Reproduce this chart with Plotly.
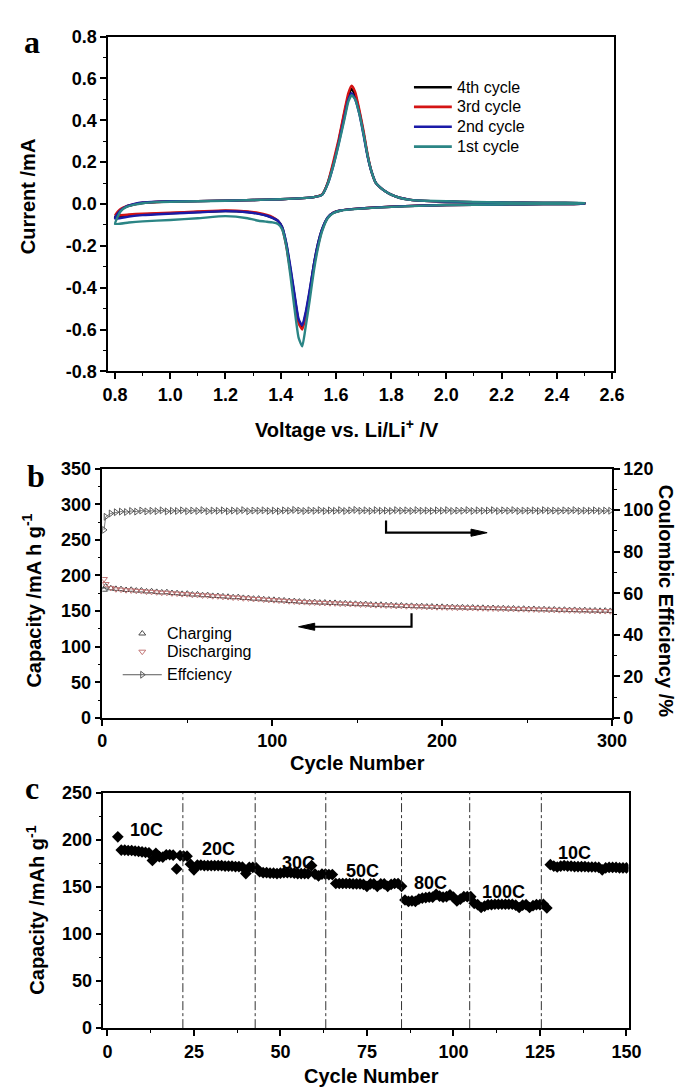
import plotly.graph_objects as go

# ---------------- Panel a : cyclic voltammetry ----------------
v_fwd = [0.80, 0.81, 0.82, 0.84, 0.87, 0.90, 0.95, 1.00, 1.10, 1.20, 1.30, 1.40, 1.48, 1.52, 1.55,
         1.57, 1.59, 1.61, 1.63, 1.645, 1.657, 1.67, 1.685, 1.70, 1.715, 1.73, 1.745, 1.76, 1.78,
         1.80, 1.83, 1.87, 1.92, 2.00, 2.10, 2.20, 2.35, 2.50]
v_rev = [2.50, 2.35, 2.20, 2.00, 1.85, 1.75, 1.68, 1.62, 1.59, 1.57, 1.55, 1.535, 1.52, 1.505, 1.49,
         1.478, 1.465, 1.45, 1.435, 1.42, 1.405, 1.39, 1.37, 1.35, 1.32, 1.28, 1.20, 1.10, 1.00,
         0.90, 0.85, 0.80]

i4_fwd = [-0.065, -0.042, -0.028, -0.013, -0.002, 0.005, 0.010, 0.012, 0.014, 0.016, 0.019, 0.023,
          0.028, 0.033, 0.045, 0.10, 0.19, 0.30, 0.43, 0.515, 0.55, 0.52, 0.44, 0.34, 0.23, 0.15,
          0.10, 0.08, 0.06, 0.045, 0.03, 0.02, 0.015, 0.012, 0.009, 0.007, 0.005, 0.004]
i3_fwd = [-0.055, -0.036, -0.024, -0.011, -0.001, 0.006, 0.010, 0.012, 0.014, 0.016, 0.019, 0.023,
          0.028, 0.033, 0.046, 0.10, 0.20, 0.31, 0.44, 0.53, 0.565, 0.535, 0.45, 0.35, 0.235, 0.15,
          0.10, 0.08, 0.06, 0.045, 0.03, 0.02, 0.015, 0.012, 0.009, 0.007, 0.005, 0.004]
i2_fwd = [-0.07, -0.045, -0.03, -0.012, 0.0, 0.007, 0.011, 0.013, 0.014, 0.016, 0.019, 0.023,
          0.028, 0.033, 0.044, 0.095, 0.18, 0.29, 0.41, 0.50, 0.53, 0.50, 0.43, 0.33, 0.225, 0.15,
          0.10, 0.08, 0.06, 0.045, 0.03, 0.02, 0.015, 0.012, 0.009, 0.007, 0.005, 0.004]
i1_fwd = [-0.095, -0.06, -0.035, -0.015, -0.003, 0.004, 0.009, 0.011, 0.013, 0.016, 0.019, 0.023,
          0.028, 0.033, 0.044, 0.095, 0.18, 0.285, 0.40, 0.49, 0.52, 0.50, 0.43, 0.335, 0.23, 0.15,
          0.10, 0.08, 0.06, 0.045, 0.03, 0.02, 0.016, 0.013, 0.010, 0.008, 0.006, 0.005]

i4_rev = [0.002, 0.0, -0.002, -0.005, -0.010, -0.016, -0.022, -0.030, -0.042, -0.065, -0.12, -0.19,
          -0.29, -0.42, -0.53, -0.59, -0.56, -0.44, -0.31, -0.19, -0.11, -0.08, -0.065, -0.055,
          -0.046, -0.038, -0.033, -0.038, -0.044, -0.05, -0.056, -0.065]
i3_rev = [0.002, 0.0, -0.002, -0.005, -0.010, -0.016, -0.022, -0.030, -0.042, -0.066, -0.125, -0.20,
          -0.30, -0.43, -0.54, -0.60, -0.57, -0.45, -0.32, -0.20, -0.115, -0.08, -0.062, -0.052,
          -0.043, -0.036, -0.031, -0.036, -0.041, -0.046, -0.05, -0.056]
i2_rev = [0.002, 0.0, -0.002, -0.005, -0.010, -0.016, -0.022, -0.030, -0.042, -0.064, -0.12, -0.19,
          -0.29, -0.41, -0.52, -0.58, -0.55, -0.43, -0.30, -0.185, -0.11, -0.08, -0.066, -0.056,
          -0.047, -0.039, -0.034, -0.04, -0.046, -0.053, -0.06, -0.07]
i1_rev = [0.003, 0.0, -0.002, -0.005, -0.011, -0.017, -0.023, -0.031, -0.044, -0.068, -0.13, -0.21,
          -0.32, -0.46, -0.59, -0.68, -0.64, -0.50, -0.34, -0.20, -0.12, -0.095, -0.088, -0.085,
          -0.08, -0.068, -0.058, -0.068, -0.076, -0.083, -0.088, -0.095]

cv_names = ["4th cycle", "3rd cycle", "2nd cycle", "1st cycle"]
cv_colors = ["#000000", "#d41414", "#1a1aa8", "#2b8585"]
cv_ytickvals = [-0.8, -0.6, -0.4, -0.2, 0.0, 0.2, 0.4, 0.6, 0.8]
cv_yticktext = ["-0.8", "-0.6", "-0.4", "-0.2", "0.0", "0.2", "0.4", "0.6", "0.8"]

# ---------------- Panel b : long cycling ----------------
cycles_b = [1] + list(range(2, 300, 3))
charge_b = [180, 184.5, 182, 181.2, 180.8, 179.6, 179.9, 178.8, 178.9, 177.6,
            177.8, 176.9, 176.2, 176.5, 175.3, 175.1, 174.2, 174.4, 173.2, 173.4,
            172.3, 172.4, 171.3, 171.2, 170.6, 170.1, 169.4, 169.6, 168.5, 168.3,
            167.4, 167.5, 166.6, 166.1, 165.8, 165.2, 164.9, 164.1, 164.0, 163.3,
            163.1, 162.4, 162.6, 161.9, 162.0, 161.4, 161.5, 160.8, 160.9, 160.3,
            160.2, 159.6, 159.8, 159.1, 158.7, 158.9, 158.2, 158.3, 157.6, 157.9,
            157.2, 157.3, 156.7, 156.9, 156.3, 156.4, 155.8, 156.0, 155.5, 155.6,
            155.1, 155.3, 154.8, 155.0, 154.5, 154.6, 154.1, 154.3, 153.8, 154.0,
            153.5, 153.7, 153.1, 153.3, 152.8, 153.0, 152.4, 152.6, 152.1, 152.3,
            151.7, 151.9, 151.4, 151.6, 151.0, 151.3, 150.7, 150.9, 150.4, 150.6,
            150.2]
discharge_b = [195, 188, 182.5, 180.6, 180.1, 179.3, 179.0, 178.4, 178.1, 177.3,
               177.0, 176.4, 175.8, 175.7, 174.9, 174.6, 173.8, 173.7, 172.8, 172.7,
               171.9, 171.8, 170.9, 170.7, 170.0, 169.7, 169.0, 168.9, 168.0, 167.8,
               167.0, 166.9, 166.1, 165.7, 165.3, 164.8, 164.4, 163.8, 163.5, 162.9,
               162.6, 162.1, 162.0, 161.5, 161.4, 161.0, 160.9, 160.4, 160.3, 159.9,
               159.7, 159.2, 159.2, 158.7, 158.3, 158.3, 157.8, 157.7, 157.2, 157.3,
               156.8, 156.7, 156.3, 156.3, 155.9, 155.8, 155.4, 155.4, 155.1, 155.0,
               154.7, 154.7, 154.4, 154.4, 154.1, 154.0, 153.7, 153.7, 153.4, 153.4,
               153.1, 153.1, 152.7, 152.7, 152.4, 152.4, 152.0, 152.0, 151.7, 151.7,
               151.3, 151.3, 151.0, 151.0, 150.6, 150.7, 150.3, 150.3, 150.0, 150.0,
               149.8]
efficiency_b = [90.5, 96.8, 98.4, 99.0, 99.3, 99.1, 99.6, 99.3, 99.8, 99.4,
                99.7, 99.5, 99.9, 99.4, 99.7, 99.6, 99.9, 99.5, 99.8, 99.6,
                100.0, 99.5, 99.8, 99.7, 99.9, 99.5, 99.8, 99.6, 100.0, 99.5,
                99.8, 99.7, 99.9, 99.6, 99.8, 99.5, 99.9, 99.7, 100.1, 99.8,
                99.6, 99.9, 99.7, 100.0, 99.6, 99.9, 99.7, 100.0, 99.6, 99.9,
                100.1, 99.7, 99.9, 99.6, 100.0, 99.7, 99.8, 99.6, 100.0, 99.7,
                99.9, 99.6, 100.0, 99.7, 99.8, 99.6, 99.9, 99.7, 100.0, 99.6,
                99.8, 99.7, 100.0, 99.6, 99.9, 99.7, 99.8, 100.0, 99.6, 99.9,
                99.7, 100.0, 99.6, 99.8, 99.7, 99.9, 99.6, 100.0, 99.7, 99.8,
                99.6, 99.9, 99.7, 100.0, 99.6, 99.8, 99.7, 99.9, 99.6, 99.8,
                99.7]
assert len(cycles_b) == len(charge_b) == len(discharge_b) == len(efficiency_b)
series_b_names = ["Charging", "Discharging", "Effciency"]

# ---------------- Panel c : rate capability ----------------
capacity_c = [203,
              189, 189, 188.5, 188.5, 188, 187.5, 187, 186.5, 186,
              178, 185.5, 182, 181.5, 184, 184, 183.5, 169, 183, 182.5, 182.5, 174, 168,
              173, 173, 172.5, 172.5, 172.5, 172.5, 172.5, 172.5, 172, 172, 172, 171.5, 171.5, 171,
              164, 170.5, 170.5, 170,
              166, 165, 165, 164.5, 164.5, 164, 164.5, 165, 165, 165, 164.5, 164, 164, 164, 164,
              172.5, 163.5, 161.5, 163.5, 163.5, 163, 163,
              153.5, 153.5, 153.5, 153.5, 153.5, 153, 153, 153, 152.5, 150.5,
              153, 153, 150.5, 153, 153, 150.5, 152.5, 153.5, 153.5, 150.5,
              136, 134.5, 135, 134.5, 137, 138, 138.5, 139, 139, 142,
              140, 139, 139.5, 141.5, 139, 135, 137, 139.5, 139.5, 139.5,
              132.5, 131, 128, 129.5, 131, 131, 131.5, 131.5, 131.5, 131.5, 131.5,
              131.5, 130.5, 128, 130.5, 131, 128, 130, 131, 131, 131.5, 127.5,
              173.5, 172, 171, 172, 172.5, 172, 172, 171.5, 171.5, 171.5, 171.5, 171,
              171, 171, 170.5, 168, 170, 170.5, 170.5, 170.5, 170, 170, 170]
cycles_c = list(range(3, 3 + len(capacity_c)))
rate_boundaries = [21.8, 42.7, 63.1, 85.0, 104.7, 125.4]
rate_labels = ["10C", "20C", "30C", "50C", "80C", "100C", "10C"]
rate_label_x = [11.4, 32.2, 55.2, 73.6, 93.3, 114.5, 134.9]
rate_label_y = [210, 190, 175, 167, 154, 144, 186]

# ---------------- Figure ----------------
FONT = "Liberation Sans, Arial, sans-serif"
SERIF = "Liberation Serif, Times New Roman, serif"
H = 1092.0
W = 686.0


def py(px):
    return 1 - px / H


def px_(px):
    return px / W


fig = go.Figure()

for name, col, f, r in zip(cv_names, cv_colors, [i4_fwd, i3_fwd, i2_fwd, i1_fwd],
                           [i4_rev, i3_rev, i2_rev, i1_rev]):
    fig.add_trace(go.Scatter(x=v_fwd + v_rev, y=f + r, mode="lines", name=name,
                             line=dict(color=col, width=2.4, shape="spline", smoothing=0.5),
                             xaxis="x", yaxis="y", showlegend=False))

b_styles = [
    dict(mode="markers", yaxis="y2",
         marker=dict(symbol="triangle-up-open", size=6, color="#4a4a4a", line=dict(width=1))),
    dict(mode="markers", yaxis="y2",
         marker=dict(symbol="triangle-down-open", size=6, color="#c27676", line=dict(width=1))),
    dict(mode="lines+markers", yaxis="y3", line=dict(color="#5a5a5a", width=0.8),
         marker=dict(symbol="triangle-right-open", size=6, color="#5a5a5a", line=dict(width=1))),
]
for name, vals, st in zip(series_b_names, [charge_b, discharge_b, efficiency_b], b_styles):
    fig.add_trace(go.Scatter(x=cycles_b, y=vals, name=name, xaxis="x2", showlegend=False, **st))

fig.add_trace(go.Scatter(x=cycles_c, y=capacity_c, mode="markers", name="rate",
                         marker=dict(symbol="diamond", size=9, color="#000000"),
                         xaxis="x3", yaxis="y4", showlegend=False))


def axis(**kw):
    d = dict(showline=True, linecolor="black", linewidth=1.5, mirror=True,
             ticks="outside", ticklen=6, tickwidth=1.5, tickcolor="black",
             showgrid=False, zeroline=False,
             tickfont=dict(family=FONT, size=18, color="black", weight="bold"))
    d.update(kw)
    return d


def minor(dt):
    return dict(ticks="outside", ticklen=3, tickwidth=1.2, tickcolor="black", dtick=dt,
                showgrid=False)


layout = dict(
    width=686, height=1092, margin=dict(l=0, r=0, t=0, b=0),
    paper_bgcolor="white", plot_bgcolor="white", showlegend=False,
    xaxis=axis(domain=[px_(98), px_(619)], anchor="y", range=[0.775, 2.607],
               tick0=0.8, dtick=0.2, tickformat=".1f", minor=minor(0.1)),
    yaxis=axis(domain=[py(360), py(19)], anchor="x", range=[-0.8, 0.8],
               tickmode="array", tickvals=cv_ytickvals, ticktext=cv_yticktext,
               minor=dict(ticks="outside", ticklen=3, tickwidth=1.2, tickcolor="black",
                          tickmode="linear", tick0=0, dtick=0.1, showgrid=False)),
    xaxis2=axis(domain=[px_(92), px_(617)], anchor="y2", range=[0, 300],
                dtick=100, minor=minor(50)),
    yaxis2=axis(domain=[py(713), py(459)], anchor="x2", range=[0, 350],
                dtick=50, minor=minor(25)),
    yaxis3=axis(overlaying="y2", side="right", anchor="x2", range=[0, 120],
                dtick=20, minor=minor(10), mirror=False),
    xaxis3=axis(domain=[px_(93), px_(634)], anchor="y4", range=[-1.2, 150.6],
                tick0=0, dtick=25, minor=minor(12.5)),
    yaxis4=axis(domain=[py(1029), py(789)], anchor="x3", range=[0, 250],
                dtick=50, minor=minor(25)),
)
fig.update_layout(**layout)

title_font = dict(family=FONT, size=20, color="black", weight="bold")
label_font = dict(family=SERIF, size=32, color="black", weight="bold")
leg_font = dict(family=FONT, size=16, color="black")
annots = [
    dict(text="a", x=px_(20), y=py(24), font=label_font),
    dict(text="b", x=px_(24), y=py(467), font=label_font),
    dict(text="c", x=px_(20), y=py(784), font=label_font),
    dict(text="Current /mA", x=px_(15), y=py(182), textangle=-90, font=title_font),
    dict(text="Voltage vs. Li/Li<sup>+</sup> /V", x=px_(344), y=py(418), font=title_font),
    dict(text="Capacity /mA h g<sup>-1</sup>", x=px_(19), y=py(593), textangle=-90, font=title_font),
    dict(text="Coulombic Efficiency /%", x=px_(673), y=py(594), textangle=90, font=title_font),
    dict(text="Cycle Number", x=px_(355), y=py(759), font=title_font),
    dict(text="Capacity /mAh g<sup>-1</sup>", x=px_(23), y=py(909), textangle=-90, font=title_font),
    dict(text="Cycle Number", x=px_(369), y=py(1078), font=title_font),
]
for a in annots:
    a.update(xref="paper", yref="paper", showarrow=False, xanchor="center", yanchor="middle")
    fig.add_annotation(**a)

# ---- legend of panel a (line keys + labels) ----
leg_a_rows = [70.5, 90.5, 110.8, 131]
for name, col, ry in zip(cv_names, cv_colors, leg_a_rows):
    fig.add_shape(type="line", xref="paper", yref="paper", x0=px_(413), x1=px_(452),
                  y0=py(ry), y1=py(ry), line=dict(color=col, width=2.6))
    fig.add_annotation(text=name, x=px_(455), y=py(ry), xref="paper", yref="paper",
                       showarrow=False, xanchor="left", yanchor="middle", font=leg_font)

# ---- legend of panel b (marker keys + labels), keys placed in panel-b axis units ----
leg_b_rows_px = [627, 645.5, 669]
leg_b_key_x = 23.5
for name, st, ry in zip(series_b_names, b_styles, leg_b_rows_px):
    cap_y = (713 - ry) * 350.0 / 254.0
    if st["mode"] == "lines+markers":
        fig.add_shape(type="line", xref="x2", yref="y2", x0=12, x1=35, y0=cap_y, y1=cap_y,
                      line=dict(color="#5a5a5a", width=1))
    fig.add_trace(go.Scatter(x=[leg_b_key_x], y=[cap_y], mode="markers", marker=st["marker"],
                             xaxis="x2", yaxis="y2", showlegend=False, hoverinfo="skip",
                             name=name + " key"))
    fig.add_annotation(text=name, x=px_(157), y=py(ry), xref="paper", yref="paper",
                       showarrow=False, xanchor="left", yanchor="middle", font=leg_font)

# ---- rate labels in panel c ----
for lx, ly, lt in zip(rate_label_x, rate_label_y, rate_labels):
    fig.add_annotation(x=lx, y=ly, xref="x3", yref="y4", text=lt, showarrow=False,
                       font=dict(family=FONT, size=18, color="black", weight="bold"))

# bent arrows in panel b
arrow_line = dict(color="black", width=2.2)
fig.add_shape(type="path", xref="x2", yref="y2",
              path="M 167,277 L 167,260 L 218,260", line=arrow_line)
fig.add_shape(type="path", xref="x2", yref="y2",
              path="M 217,265 L 226.5,260 L 217,255 Z", line=dict(color="black", width=1),
              fillcolor="black")
fig.add_shape(type="path", xref="x2", yref="y2",
              path="M 182,147 L 182,128 L 124,128", line=arrow_line)
fig.add_shape(type="path", xref="x2", yref="y2",
              path="M 125,133 L 115.5,128 L 125,123 Z", line=dict(color="black", width=1),
              fillcolor="black")

# rate boundaries in panel c
for b in rate_boundaries:
    fig.add_shape(type="line", xref="x3", yref="y4", x0=b, x1=b, y0=0, y1=250,
                  line=dict(color="#333333", width=1, dash="dashdot"))

fig.write_html("out.html")
